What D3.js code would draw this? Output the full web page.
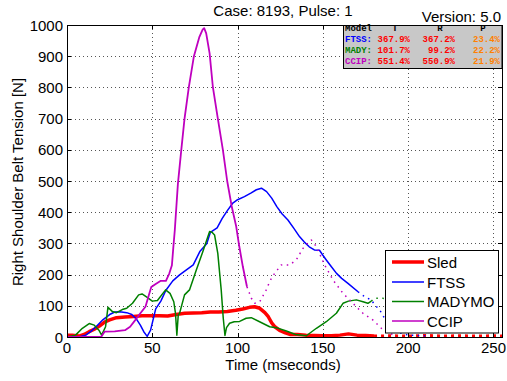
<!DOCTYPE html>
<html><head><meta charset="utf-8">
<script src="https://cdn.jsdelivr.net/npm/d3@7"></script>
<style>
html,body{margin:0;padding:0;background:#fff;}
svg text{font-family:"Liberation Sans",Arial,sans-serif;}
</style></head>
<body>
<svg id="c" width="507" height="381"></svg>
<script>
// ---------- data ----------
const title = "Case: 8193, Pulse: 1";
const version = "Version: 5.0";
const xLabel = "Time (mseconds)";
const yLabel = "Right Shoulder Belt Tension [N]";
const xTicks = [0, 50, 100, 150, 200, 250];
const yTicks = [0, 100, 200, 300, 400, 500, 600, 700, 800, 900, 1000];
const seriesNames = ["Sled", "FTSS", "MADYMO", "CCIP"];
const seriesColors = ["#ff0000", "#0000ff", "#008000", "#bf00bf"];

const sledT = [0,3,7,10,13,16,19,22,25,29,34,39,44,49,54,59,64,69,74,79,84,89,94,99,103,107,110,113,116,118,120,122,125,128,131,135,140,145,150,155,160,165,170,175,180];
const sledV = [6,6,3,8,17,25,35,48,55,62,64,66,68,68,68,67,72,76,77,78,80,80,82,86,90,95,97,92,78,65,45,32,20,13,8,8,6,5,4,4,6,10,6,5,3];
const sledTailT = [180,190,200,210,220,230,240,250,255];
const sledTailV = [3,4,3,5,3,4,3,4,3];

const ftssT = [0,5,8,11,14,17,21,25,28,31,35,38,41,43,45,47,49,52,55,58,62,66,70,74,78,82,84,88,91,94,97,100,104,108,111,114,117,120,123,126,129.5,133,136.4,139,142,145,148,150,152,155,158,161,164.7,170.6];
const ftssV = [0,0,2,6,18,33,55,72,80,81,78,72,55,38,17,2,22,90,115,150,180,199,215,231,275,300,335,350,380,405,428,440,450,462,472,477,466,445,418,395,375,348,321,305,289,279,278,262,247,225,204,188,172,145];
const ftssDotT = [170.6,175,178.4,180.4,183.3,185,188,192,196,200,210];
const ftssDotV = [145,127,119,103,87,70,45,25,12,6,4];

const madyT = [0,5,9,13,16,18.7,20.3,22.6,24,26.5,29,32.4,35,38.4,42,44,47,50,53,57.8,60.4,62.6,63.6,64.4,65.2,66,68.9,71.8,75.8,79.6,83.6,85,86.5,88.4,90.4,91.6,92.6,93.5,95.3,98,101.2,105,108,112.9,118.8,122.7,128.6,134,140.3,146.2,152,157.9,161.8,165,169.6,173.5,176.4,178.4];
const madyV = [0,6,28,43,38,22,6,33,95,82,78,88,92,108,135,138,127,115,117,151,140,113,76,6,70,76,135,151,215,273,338,336,327,268,151,60,5,30,44,49,50,60,62,49,33,30,19,8,4,28,49,76,108,115,119,113,108,115];
const madyDotT = [178.4,180.4,185,190,200];
const madyDotV = [115,124,124,120,115];

const ccipT = [0,10,20,22,28,34,37,40,43,46,48,49.4,52,55,58,60,61.5,62.3,63.2,65,67,68.9,71.4,74.4,77.5,79.5,80.4,81.6,83.6,85.5,88.4,91.4,93.9,96.5,99.2,101,103.1,105.5];
const ccipV = [0,0,0,17,18,22,33,54,76,97,135,160,170,180,180,204,230,285,343,490,600,700,800,900,960,985,990,973,909,802,701,599,500,420,354,290,225,161];
const ccipDotT = [105.5,108,110,113,116.8,119,121.7,125.6,130.5,134.4,138.3,141,143.2,145,147.1,151,155.9,161.8,167.6,173.5,179.4,184.3,188,192];
const ccipDotV = [161,125,108,113,151,180,204,231,231,247,284,300,311,300,279,231,183,140,108,76,54,28,15,5];

const tableHeader = ["Model", "T", "R", "P"];
const tableModels = ["FTSS:", "MADY:", "CCIP:"];
const tableModelColors = ["#0000ff", "#008000", "#bf00bf"];
const tableT = ["367.9%", "101.7%", "551.4%"];
const tableR = ["367.2%", "99.2%", "550.9%"];
const tableP = ["23.4%", "22.2%", "21.9%"];

// ---------- layout ----------
const svg = d3.select("#c");
const L = 67, R = 502, T = 25, B = 337;
const x = d3.scaleLinear().domain([0, 255]).range([L, R]);
const y = d3.scaleLinear().domain([0, 1000]).range([B, T]);

// grid
const grid = svg.append("g").attr("stroke", "#555").attr("stroke-width", 1).attr("stroke-dasharray", "1,3");
xTicks.filter(d => d > 0 && d < 255).forEach(d => {
  grid.append("line").attr("x1", Math.round(x(d)) + 0.5).attr("x2", Math.round(x(d)) + 0.5).attr("y1", T).attr("y2", B);
});
yTicks.filter(d => d > 0 && d < 1000).forEach(d => {
  grid.append("line").attr("x1", L).attr("x2", R).attr("y1", Math.round(y(d)) + 0.5).attr("y2", Math.round(y(d)) + 0.5);
});

// clip
svg.append("clipPath").attr("id", "clip").append("rect").attr("x", L).attr("y", T).attr("width", R - L).attr("height", B - T + 1);
const plot = svg.append("g").attr("clip-path", "url(#clip)");
const line = d3.line().x(d => x(d[0])).y(d => y(d[1]));
const zip = (a, b) => a.map((v, i) => [v, b[i]]);

function draw(tt, vv, color, w, dash) {
  const p = plot.append("path").datum(zip(tt, vv)).attr("d", line)
    .attr("fill", "none").attr("stroke", color).attr("stroke-width", w)
    .attr("stroke-linejoin", "round");
  if (dash) p.attr("stroke-dasharray", dash);
}
draw(sledTailT, sledTailV, seriesColors[0], 3, "3,4");
draw(sledT, sledV, seriesColors[0], 3.5);
draw(ftssT, ftssV, seriesColors[1], 1.5);
draw(ftssDotT, ftssDotV, seriesColors[1], 1.5, "1.5,4.5");
draw(madyT, madyV, seriesColors[2], 1.5);
draw(madyDotT, madyDotV, seriesColors[2], 1.5, "1.5,4.5");
draw(ccipT, ccipV, seriesColors[3], 1.8);
draw(ccipDotT, ccipDotV, seriesColors[3], 1.5, "1.5,4.5");

// frame
svg.append("rect").attr("x", L + 0.5).attr("y", T + 0.5).attr("width", R - L).attr("height", B - T)
  .attr("fill", "none").attr("stroke", "#000").attr("stroke-width", 1);

// ticks (inward, all sides)
const tk = svg.append("g").attr("stroke", "#000").attr("stroke-width", 1);
xTicks.forEach(d => {
  const px = Math.round(x(d)) + 0.5;
  tk.append("line").attr("x1", px).attr("x2", px).attr("y1", B).attr("y2", B - 4);
  tk.append("line").attr("x1", px).attr("x2", px).attr("y1", T).attr("y2", T + 4);
});
yTicks.forEach(d => {
  const py = Math.round(y(d)) + 0.5;
  tk.append("line").attr("x1", L).attr("x2", L + 4).attr("y1", py).attr("y2", py);
  tk.append("line").attr("x1", R).attr("x2", R - 4).attr("y1", py).attr("y2", py);
});

// tick labels
svg.append("g").selectAll("text").data(xTicks).join("text")
  .attr("x", d => x(d)).attr("y", 353).attr("text-anchor", "middle")
  .attr("font-size", 15).text(d => d);
svg.append("g").selectAll("text").data(yTicks).join("text")
  .attr("x", 63).attr("y", d => y(d) + 5.5).attr("text-anchor", "end")
  .attr("font-size", 15).text(d => d);

// labels
svg.append("text").attr("x", 283).attr("y", 370).attr("text-anchor", "middle").attr("font-size", 15).text(xLabel);
svg.append("text").attr("transform", "translate(23,182) rotate(-90)").attr("text-anchor", "middle").attr("font-size", 15).text(yLabel);
svg.append("text").attr("x", 283).attr("y", 16).attr("text-anchor", "middle").attr("font-size", 15).text(title);
svg.append("text").attr("x", 501).attr("y", 22).attr("text-anchor", "end").attr("font-size", 15).text(version);

// table
const tb = svg.append("g").attr("font-weight", "bold").attr("font-size", 9);
tb.append("rect").attr("x", 343.5).attr("y", 25.5).attr("width", 158.5).attr("height", 43)
  .attr("fill", "#c8c8c8").attr("stroke", "#000").attr("stroke-width", 1);
const hdrX = [345, 395, 440, 483];
tableHeader.forEach((h, i) => {
  tb.append("text").attr("x", hdrX[i]).attr("y", 31).attr("text-anchor", i === 0 ? "start" : "middle")
    .attr("fill", "#000").style("font-family", "'Liberation Mono',monospace").text(h);
});
const rowY = [41.5, 52.5, 63.5];
tableModels.forEach((m, i) => {
  tb.append("text").attr("x", 345).attr("y", rowY[i]).attr("fill", tableModelColors[i]).style("font-family", "'Liberation Mono',monospace").text(m);
  tb.append("text").attr("x", 410).attr("y", rowY[i]).attr("text-anchor", "end").attr("fill", "#ff0000").style("font-family", "'Liberation Mono',monospace").text(tableT[i]);
  tb.append("text").attr("x", 455).attr("y", rowY[i]).attr("text-anchor", "end").attr("fill", "#ff0000").style("font-family", "'Liberation Mono',monospace").text(tableR[i]);
  tb.append("text").attr("x", 500).attr("y", rowY[i]).attr("text-anchor", "end").attr("fill", "#ff8000").style("font-family", "'Liberation Mono',monospace").text(tableP[i]);
});

// legend
const lg = svg.append("g");
lg.append("rect").attr("x", 385.5).attr("y", 250.5).attr("width", 113).attr("height", 82.5)
  .attr("fill", "#fff").attr("stroke", "#000").attr("stroke-width", 1);
const lgY = [262, 282, 301.5, 321];
seriesNames.forEach((n, i) => {
  lg.append("line").attr("x1", 392).attr("x2", 424).attr("y1", lgY[i]).attr("y2", lgY[i])
    .attr("stroke", seriesColors[i]).attr("stroke-width", i === 0 ? 3.5 : 1.5);
  lg.append("text").attr("x", 427).attr("y", lgY[i] + 5.5).attr("font-size", 15).text(n);
});
</script>
</body></html>
